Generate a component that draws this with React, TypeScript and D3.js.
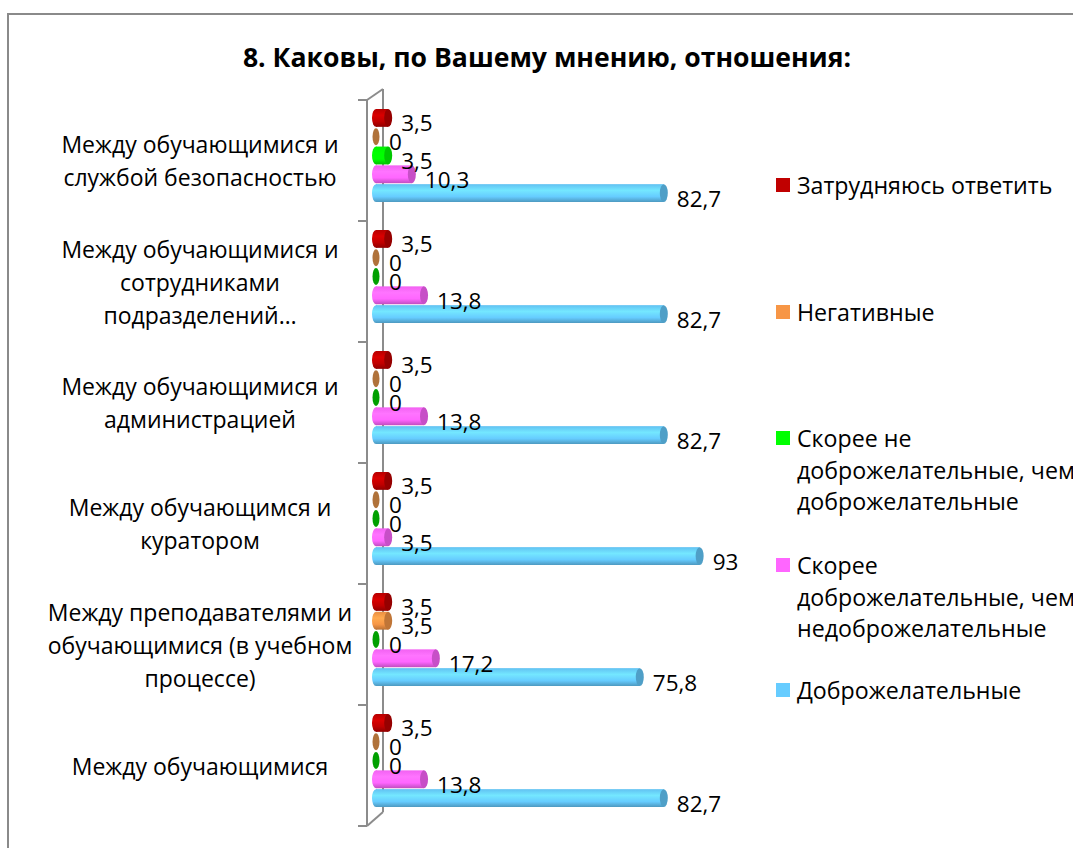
import React from "react";
import * as d3 from "d3";

const title = "8. Каковы, по Вашему мнению, отношения:";

const categories = [
  "Между обучающимися и\nслужбой безопасностью",
  "Между обучающимися и\nсотрудниками\nподразделений…",
  "Между обучающимися и\nадминистрацией",
  "Между обучающимся и\nкуратором",
  "Между преподавателями и\nобучающимися (в учебном\nпроцессе)",
  "Между обучающимися",
];

const seriesNames = [
  "Затрудняюсь ответить",
  "Негативные",
  "Скорее не\nдоброжелательные, чем\nдоброжелательные",
  "Скорее\nдоброжелательные, чем\nнедоброжелательные",
  "Доброжелательные",
];

const seriesColors = ["#C00000", "#F79646", "#00FF00", "#FF66FF", "#66CCFF"];
const zeroColors = ["#8B0000", "#B0723A", "#00A000", "#C040C0", "#3A9CC8"];

const hardToSay = [3.5, 3.5, 3.5, 3.5, 3.5, 3.5];
const negative = [0, 0, 0, 0, 3.5, 0];
const ratherUnfriendly = [3.5, 0, 0, 0, 0, 0];
const ratherFriendly = [10.3, 13.8, 13.8, 3.5, 17.2, 13.8];
const friendly = [82.7, 82.7, 82.7, 93, 75.8, 82.7];

const seriesValues = [hardToSay, negative, ratherUnfriendly, ratherFriendly, friendly];

const W = 1073;
const H = 848;
const FONT = "'Open Sans', 'Noto Sans', sans-serif";

export default function App() {
  const y = d3.scaleBand<number>().domain(d3.range(categories.length)).range([100, 826]).padding(0);
  const inner = d3.scaleBand<number>().domain(d3.range(seriesNames.length)).range([9, 102]).paddingInner(0.05);
  const x = d3.scaleLinear().domain([0, 100]).range([376, 724]);
  const rx = 4;
  const bh = inner.bandwidth();

  const gradId = (i: number) => `cyl-${i}`;

  return (
    <svg width={W} height={H} style={{ position: "absolute", left: 0, top: 0, background: "#fff" }} fontFamily={FONT}>
      <defs>
        {seriesColors.map((c, i) => {
          const base = d3.color(c)!;
          return (
            <linearGradient key={i} id={gradId(i)} x1="0" y1="0" x2="0" y2="1">
              <stop offset="0" stopColor={base.darker(0.15).formatHex()} />
              <stop offset="0.35" stopColor={base.brighter(0.35).formatHex()} />
              <stop offset="0.7" stopColor={base.formatHex()} />
              <stop offset="1" stopColor={base.darker(0.8).formatHex()} />
            </linearGradient>
          );
        })}
      </defs>
      <rect x={8} y={14} width={1100} height={900} fill="#fff" stroke="#8a8a8a" strokeWidth={2} />
      <text x={547} y={57} textAnchor="middle" dominantBaseline="central" fontWeight="bold" fontSize={26.6} fill="#000">
        {title}
      </text>

      {/* axis wall */}
      <g stroke="#8c8c8c" strokeWidth={2} fill="none">
        <line x1={383} y1={89} x2={383} y2={812} />
        <line x1={367} y1={100} x2={383} y2={89} />
        <line x1={367} y1={826} x2={383} y2={812} />
        <line x1={367} y1={100} x2={367} y2={826} />
        {d3.range(categories.length + 1).map((i) => {
          const yy = i < categories.length ? y(i)! : y.range()[1];
          return <line key={i} x1={358} y1={yy} x2={367} y2={yy} />;
        })}
      </g>

      {/* bars */}
      {categories.map((cat, ci) => (
        <g key={ci} transform={`translate(0,${y(ci)})`}>
          {seriesValues.map((vals, si) => {
            const v = vals[ci];
            const top = inner(si)!;
            const cy = top + bh / 2;
            const x0 = x(0);
            const x1 = x(v);
            const base = d3.color(seriesColors[si])!;
            return (
              <g key={si}>
                {v === 0 ? (
                  <ellipse cx={x0} cy={cy} rx={3.5} ry={bh / 2 - 0.5} fill={zeroColors[si]} />
                ) : (
                  <>
                    <ellipse cx={x0} cy={cy} rx={rx} ry={bh / 2} fill={`url(#${gradId(si)})`} />
                    <rect x={x0} y={top} width={x1 - x0} height={bh} fill={`url(#${gradId(si)})`} />
                    <ellipse cx={x1} cy={cy} rx={rx} ry={bh / 2} fill={base.darker(0.7).formatHex()} />
                  </>
                )}
              </g>
            );
          })}
        </g>
      ))}

      {/* data labels */}
      {categories.map((cat, ci) => (
        <g key={ci} transform={`translate(0,${y(ci)})`}>
          {seriesValues.map((vals, si) => {
            const v = vals[ci];
            const cy = inner(si)! + bh / 2;
            return (
              <text key={si} x={x(v) + 13} y={cy + 5} dominantBaseline="central" fontSize={22.5} fill="#000">
                {String(v).replace(".", ",")}
              </text>
            );
          })}
        </g>
      ))}

      {/* category labels */}
      {categories.map((cat, ci) => {
        const lines = cat.split("\n");
        const cy = y(ci)! + y.bandwidth() / 2;
        const lh = 33;
        return (
          <text key={ci} textAnchor="middle" fontSize={23} fill="#000">
            {lines.map((l, li) => (
              <tspan key={li} x={200} y={cy + (li - (lines.length - 1) / 2) * lh} dominantBaseline="central">
                {l}
              </tspan>
            ))}
          </text>
        );
      })}

      {/* legend */}
      {seriesNames.map((name, si) => {
        const ly = [185, 312, 438, 565, 690][si];
        const lines = name.split("\n");
        return (
          <g key={si}>
            <rect x={776} y={ly - 7} width={14} height={14} fill={seriesColors[si]} />
            <text fontSize={23.2} fill="#000">
              {lines.map((l, li) => (
                <tspan key={li} x={797} y={ly + li * 31.5} dominantBaseline="central">
                  {l}
                </tspan>
              ))}
            </text>
          </g>
        );
      })}
    </svg>
  );
}
